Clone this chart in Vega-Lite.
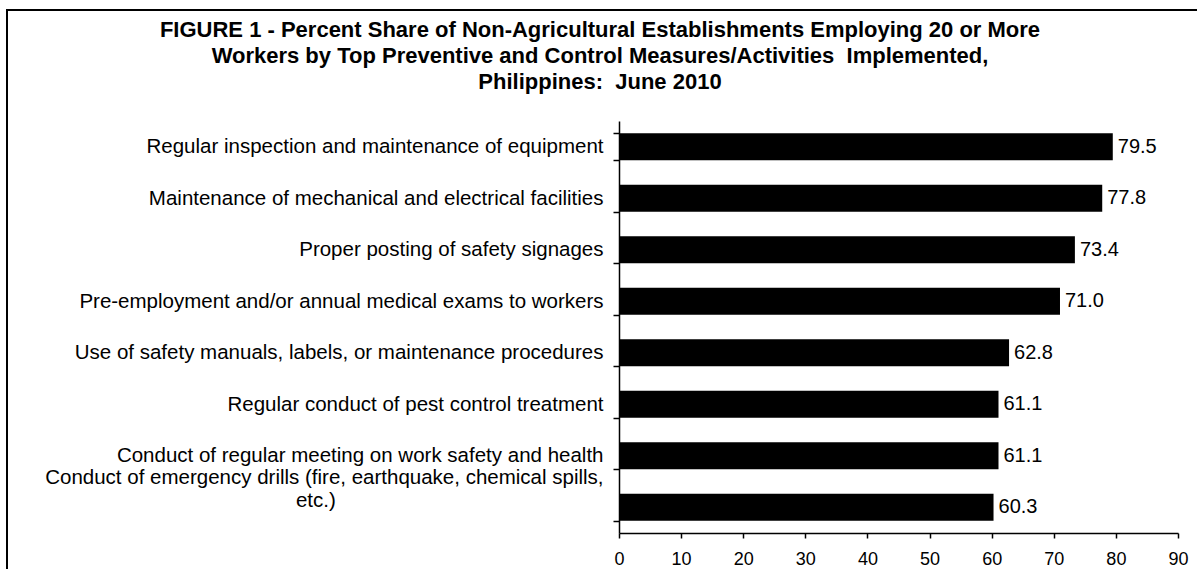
{
  "$schema": "https://vega.github.io/schema/vega-lite/v6.json",
  "autosize": {"type": "none"},
  "padding": {"left": 7, "top": 10, "right": 0, "bottom": 0},
  "width": 1200,
  "height": 570,
  "background": "white",
  "config": {
    "font": "Liberation Sans",
    "view": {"stroke": "black", "strokeWidth": 2, "fill": "white"}
  },
  "title": {
    "text": ["FIGURE 1 - Percent Share of Non-Agricultural Establishments Employing 20 or More", "Workers by Top Preventive and Control Measures/Activities\u00a0 Implemented,", "Philippines:\u00a0 June 2010"],
    "font": "Liberation Sans",
    "fontSize": 22,
    "fontWeight": "bold",
    "color": "black",
    "lineHeight": 26,
    "anchor": "middle",
    "baseline": "bottom",
    "offset": -116,
    "dx": -7
  },
  "data": {
    "values": [
      {"measure": "Regular inspection and maintenance of equipment", "pct": 79.5},
      {"measure": "Maintenance of mechanical and electrical facilities", "pct": 77.8},
      {"measure": "Proper posting of safety signages", "pct": 73.4},
      {"measure": "Pre-employment and/or annual medical exams to workers", "pct": 71.0},
      {"measure": "Use of safety manuals, labels, or maintenance procedures", "pct": 62.8},
      {"measure": "Regular conduct of pest control treatment", "pct": 61.1},
      {"measure": "Conduct of regular meeting on work safety and health", "pct": 61.1},
      {"measure": "Conduct of emergency drills (fire, earthquake, chemical spills, etc.)", "pct": 60.3}
    ]
  },
  "encoding": {
    "y": {
      "field": "measure",
      "type": "nominal",
      "sort": null,
      "scale": {"range": [111, 523], "paddingInner": 0.475, "paddingOuter": 0.2375},
      "axis": {
        "title": null,
        "orient": "left",
        "offset": -612,
        "tickBand": "extent",
        "domainColor": "black",
        "domainWidth": 1.5,
        "tickColor": "black",
        "tickWidth": 1.5,
        "tickSize": 6,
        "labelFont": "Liberation Sans",
        "labelFontSize": 20.5,
        "labelColor": "black",
        "labelPadding": 10,
        "labelLimit": 0,
        "labelLineHeight": 23,
        "labelOffset": {"condition": {"test": "datum.value == 'Conduct of emergency drills (fire, earthquake, chemical spills, etc.)'", "value": -30}, "value": 0},
        "labelExpr": "datum.value == 'Conduct of emergency drills (fire, earthquake, chemical spills, etc.)' ? ['Conduct of emergency drills (fire, earthquake, chemical spills,', 'etc.)\u00a0\u00a0\u00a0\u00a0\u00a0\u00a0\u00a0\u00a0\u00a0\u00a0\u00a0\u00a0\u00a0\u00a0\u00a0\u00a0\u00a0\u00a0\u00a0\u00a0\u00a0\u00a0\u00a0\u00a0\u00a0\u00a0\u00a0\u00a0\u00a0\u00a0\u00a0\u00a0\u00a0\u00a0\u00a0\u00a0\u00a0\u00a0\u00a0\u00a0\u00a0\u00a0\u00a0\u00a0\u00a0\u00a0\u00a0\u200b'] : datum.value"
      }
    },
    "x": {
      "field": "pct",
      "type": "quantitative",
      "scale": {"domain": [0, 90], "range": [612, 1171], "nice": false, "zero": true},
      "axis": {
        "title": null,
        "orient": "bottom",
        "offset": -47,
        "values": [0, 10, 20, 30, 40, 50, 60, 70, 80, 90],
        "grid": false,
        "domainColor": "black",
        "domainWidth": 1.5,
        "tickColor": "black",
        "tickWidth": 1.5,
        "tickSize": 5,
        "labelFont": "Liberation Sans",
        "labelFontSize": 18,
        "labelColor": "black",
        "labelPadding": 12,
        "labelFlush": false,
        "labelOverlap": false
      }
    }
  },
  "layer": [
    {"mark": {"type": "bar", "color": "black"}},
    {
      "mark": {"type": "text", "align": "left", "baseline": "middle", "dx": 5, "fontSize": 20, "font": "Liberation Sans", "color": "black"},
      "encoding": {"text": {"field": "pct", "type": "quantitative", "format": ".1f"}}
    }
  ]
}
